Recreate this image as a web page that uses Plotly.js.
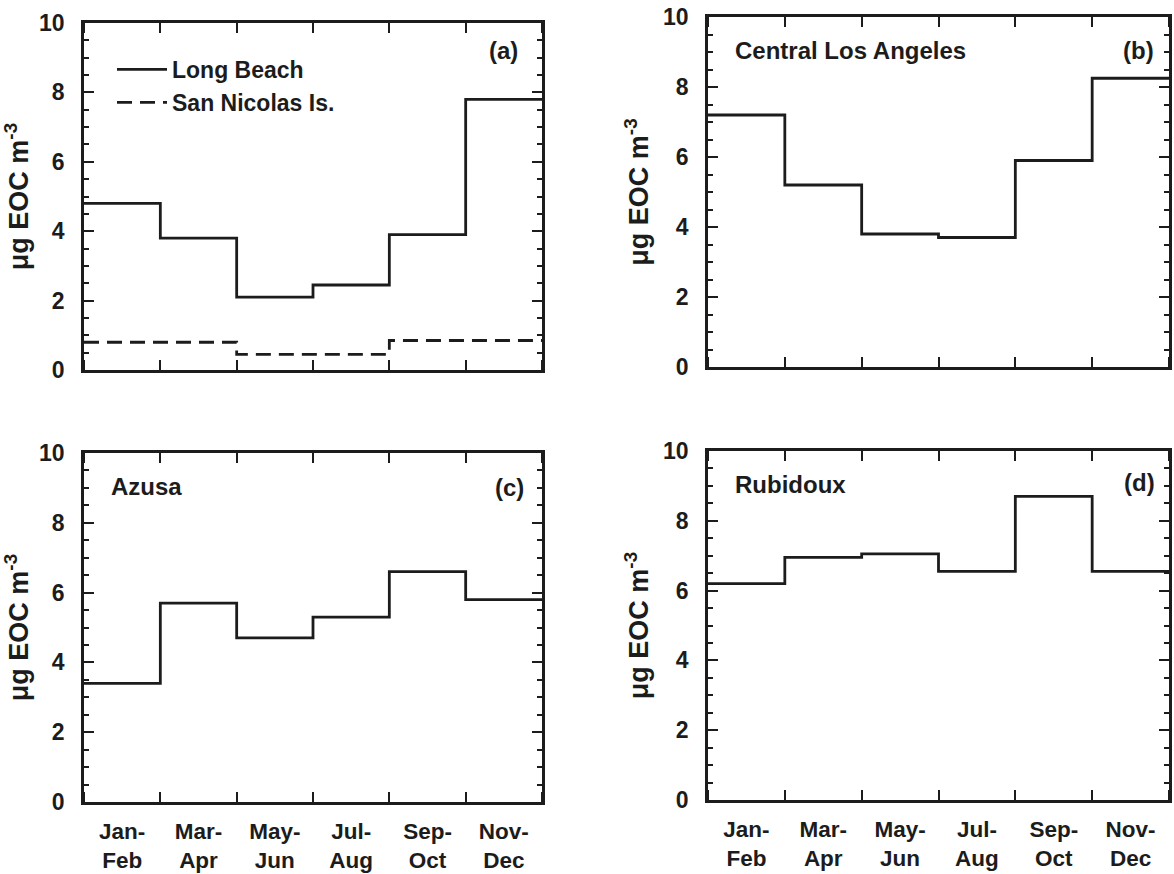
<!DOCTYPE html>
<html>
<head>
<meta charset="utf-8">
<script src="https://cdn.plot.ly/plotly-3.0.1.min.js"></script>
<style>
  html, body { margin: 0; padding: 0; background: #fff; }
  #chart { width: 1174px; height: 874px; }
</style>
</head>
<body>
<div id="chart"></div>
<script>
// Two-month sampling periods
const periods = ['Jan-<br>Feb', 'Mar-<br>Apr', 'May-<br>Jun', 'Jul-<br>Aug', 'Sep-<br>Oct', 'Nov-<br>Dec'];

// Extractable organic carbon, µg EOC m^-3, one value per period
const longBeach  = [4.8, 3.8, 2.1, 2.45, 3.9, 7.8];
const sanNicolas = [0.8, 0.8, 0.45, 0.45, 0.85, 0.85];
const centralLA  = [7.2, 5.2, 3.8, 3.7, 5.9, 8.25];
const azusa      = [3.4, 5.7, 4.7, 5.3, 6.6, 5.8];
const rubidoux   = [6.2, 6.95, 7.05, 6.55, 8.7, 6.55];

const panelTags  = ['(a)', '(b)', '(c)', '(d)'];
const siteLabels = ['', 'Central Los Angeles', 'Azusa', 'Rubidoux'];
const yTitle = 'μg EOC m<sup>-3</sup>';

const INK = '#1c1c1c';
const FONT = 'Liberation Sans, Arial, Helvetica, sans-serif';

// Step traces: each period is a flat segment spanning its bin [i, i+1]
const edges = periods.map((_, i) => i).concat(periods.length);
const centers = periods.map((_, i) => i + 0.5);
function stepTrace(vals, name, xa, ya, dash, showlegend) {
  return {
    x: edges,
    y: vals.concat(vals[vals.length - 1]),
    type: 'scatter', mode: 'lines',
    line: { shape: 'hv', color: INK, width: 2.8, dash: dash || 'solid' },
    name: name, xaxis: xa, yaxis: ya,
    showlegend: !!showlegend, hoverinfo: 'skip'
  };
}

const traces = [
  stepTrace(longBeach,  'Long Beach',       'x',  'y',  'solid', true),
  stepTrace(sanNicolas, 'San Nicolas Is.',  'x',  'y',  '15px,8px', true),
  stepTrace(centralLA,  'Central Los Angeles', 'x2', 'y2'),
  stepTrace(azusa,      'Azusa',            'x3', 'y3'),
  stepTrace(rubidoux,   'Rubidoux',         'x4', 'y4')
];

// Panel boxes in pixels: [left, right, top, bottom]
const W = 1174, H = 874;
const boxes = [
  [84, 542, 23, 370],
  [708, 1169, 17, 367],
  [84, 542, 453, 802],
  [708, 1169, 451, 800]
];
// Where the panel tag sits (fraction of the panel box)
const tagPos = [[0.952, 0.922], [0.972, 0.905], [0.965, 0.9], [0.974, 0.91]];

function xAxis(i, box) {
  return {
    domain: [box[0] / W, box[1] / W],
    anchor: 'y' + (i ? i + 1 : ''),
    range: [0, periods.length],
    tickmode: 'array', tickvals: centers, ticktext: periods,
    ticks: '', showticklabels: i >= 2,
    tickfont: { family: FONT, size: 22.5, color: INK, weight: 'bold' },
    ticklabelstandoff: 7,
    minor: { tickmode: 'array', tickvals: edges, ticks: 'inside', ticklen: 10, tickwidth: 2, tickcolor: INK },
    showline: true, linecolor: INK, linewidth: 2.8, mirror: 'ticks',
    showgrid: false, zeroline: false, fixedrange: true
  };
}
function yAxis(i, box) {
  return {
    domain: [1 - box[3] / H, 1 - box[2] / H],
    anchor: 'x' + (i ? i + 1 : ''),
    range: [0, 10],
    tickmode: 'linear', tick0: 0, dtick: 2,
    ticks: 'inside', ticklen: 10, tickwidth: 2, tickcolor: INK,
    minor: { dtick: 0.5, ticks: 'inside', ticklen: 5, tickwidth: 2, tickcolor: INK },
    tickfont: { family: FONT, size: 23, color: INK, weight: 'bold' },
    ticklabelstandoff: 12,
    title: { text: yTitle, font: { family: FONT, size: 27, color: INK, weight: 'bold' }, standoff: 7 },
    showline: true, linecolor: INK, linewidth: 2.8, mirror: 'ticks',
    showgrid: false, zeroline: false, fixedrange: true
  };
}

const layout = {
  width: W, height: H,
  margin: { l: 0, r: 0, t: 0, b: 0 },
  paper_bgcolor: '#fff', plot_bgcolor: '#fff',
  font: { family: FONT, color: INK },
  showlegend: true,
  legend: {
    x: 112 / W, y: 1 - 48 / H, xanchor: 'left', yanchor: 'top',
    bgcolor: 'rgba(0,0,0,0)', borderwidth: 0,
    font: { family: FONT, size: 23, color: INK, weight: 'bold' },
    itemwidth: 50, tracegroupgap: 0
  },
  annotations: []
};

boxes.forEach((box, i) => {
  const s = i ? String(i + 1) : '';
  layout['xaxis' + s] = xAxis(i, box);
  layout['yaxis' + s] = yAxis(i, box);
  layout.annotations.push({
    xref: 'x' + s + ' domain', yref: 'y' + s + ' domain',
    x: tagPos[i][0], y: tagPos[i][1], xanchor: 'right', yanchor: 'middle',
    text: panelTags[i], showarrow: false,
    font: { family: FONT, size: 24, color: INK, weight: 'bold' }
  });
  if (siteLabels[i]) {
    layout.annotations.push({
      xref: 'x' + s + ' domain', yref: 'y' + s + ' domain',
      x: 0.055, y: 0.905, xanchor: 'left', yanchor: 'middle',
      text: siteLabels[i], showarrow: false,
      font: { family: FONT, size: 24, color: INK, weight: 'bold' }
    });
  }
});

Plotly.newPlot('chart', traces, layout, { staticPlot: true, displayModeBar: false });
</script>
</body>
</html>
